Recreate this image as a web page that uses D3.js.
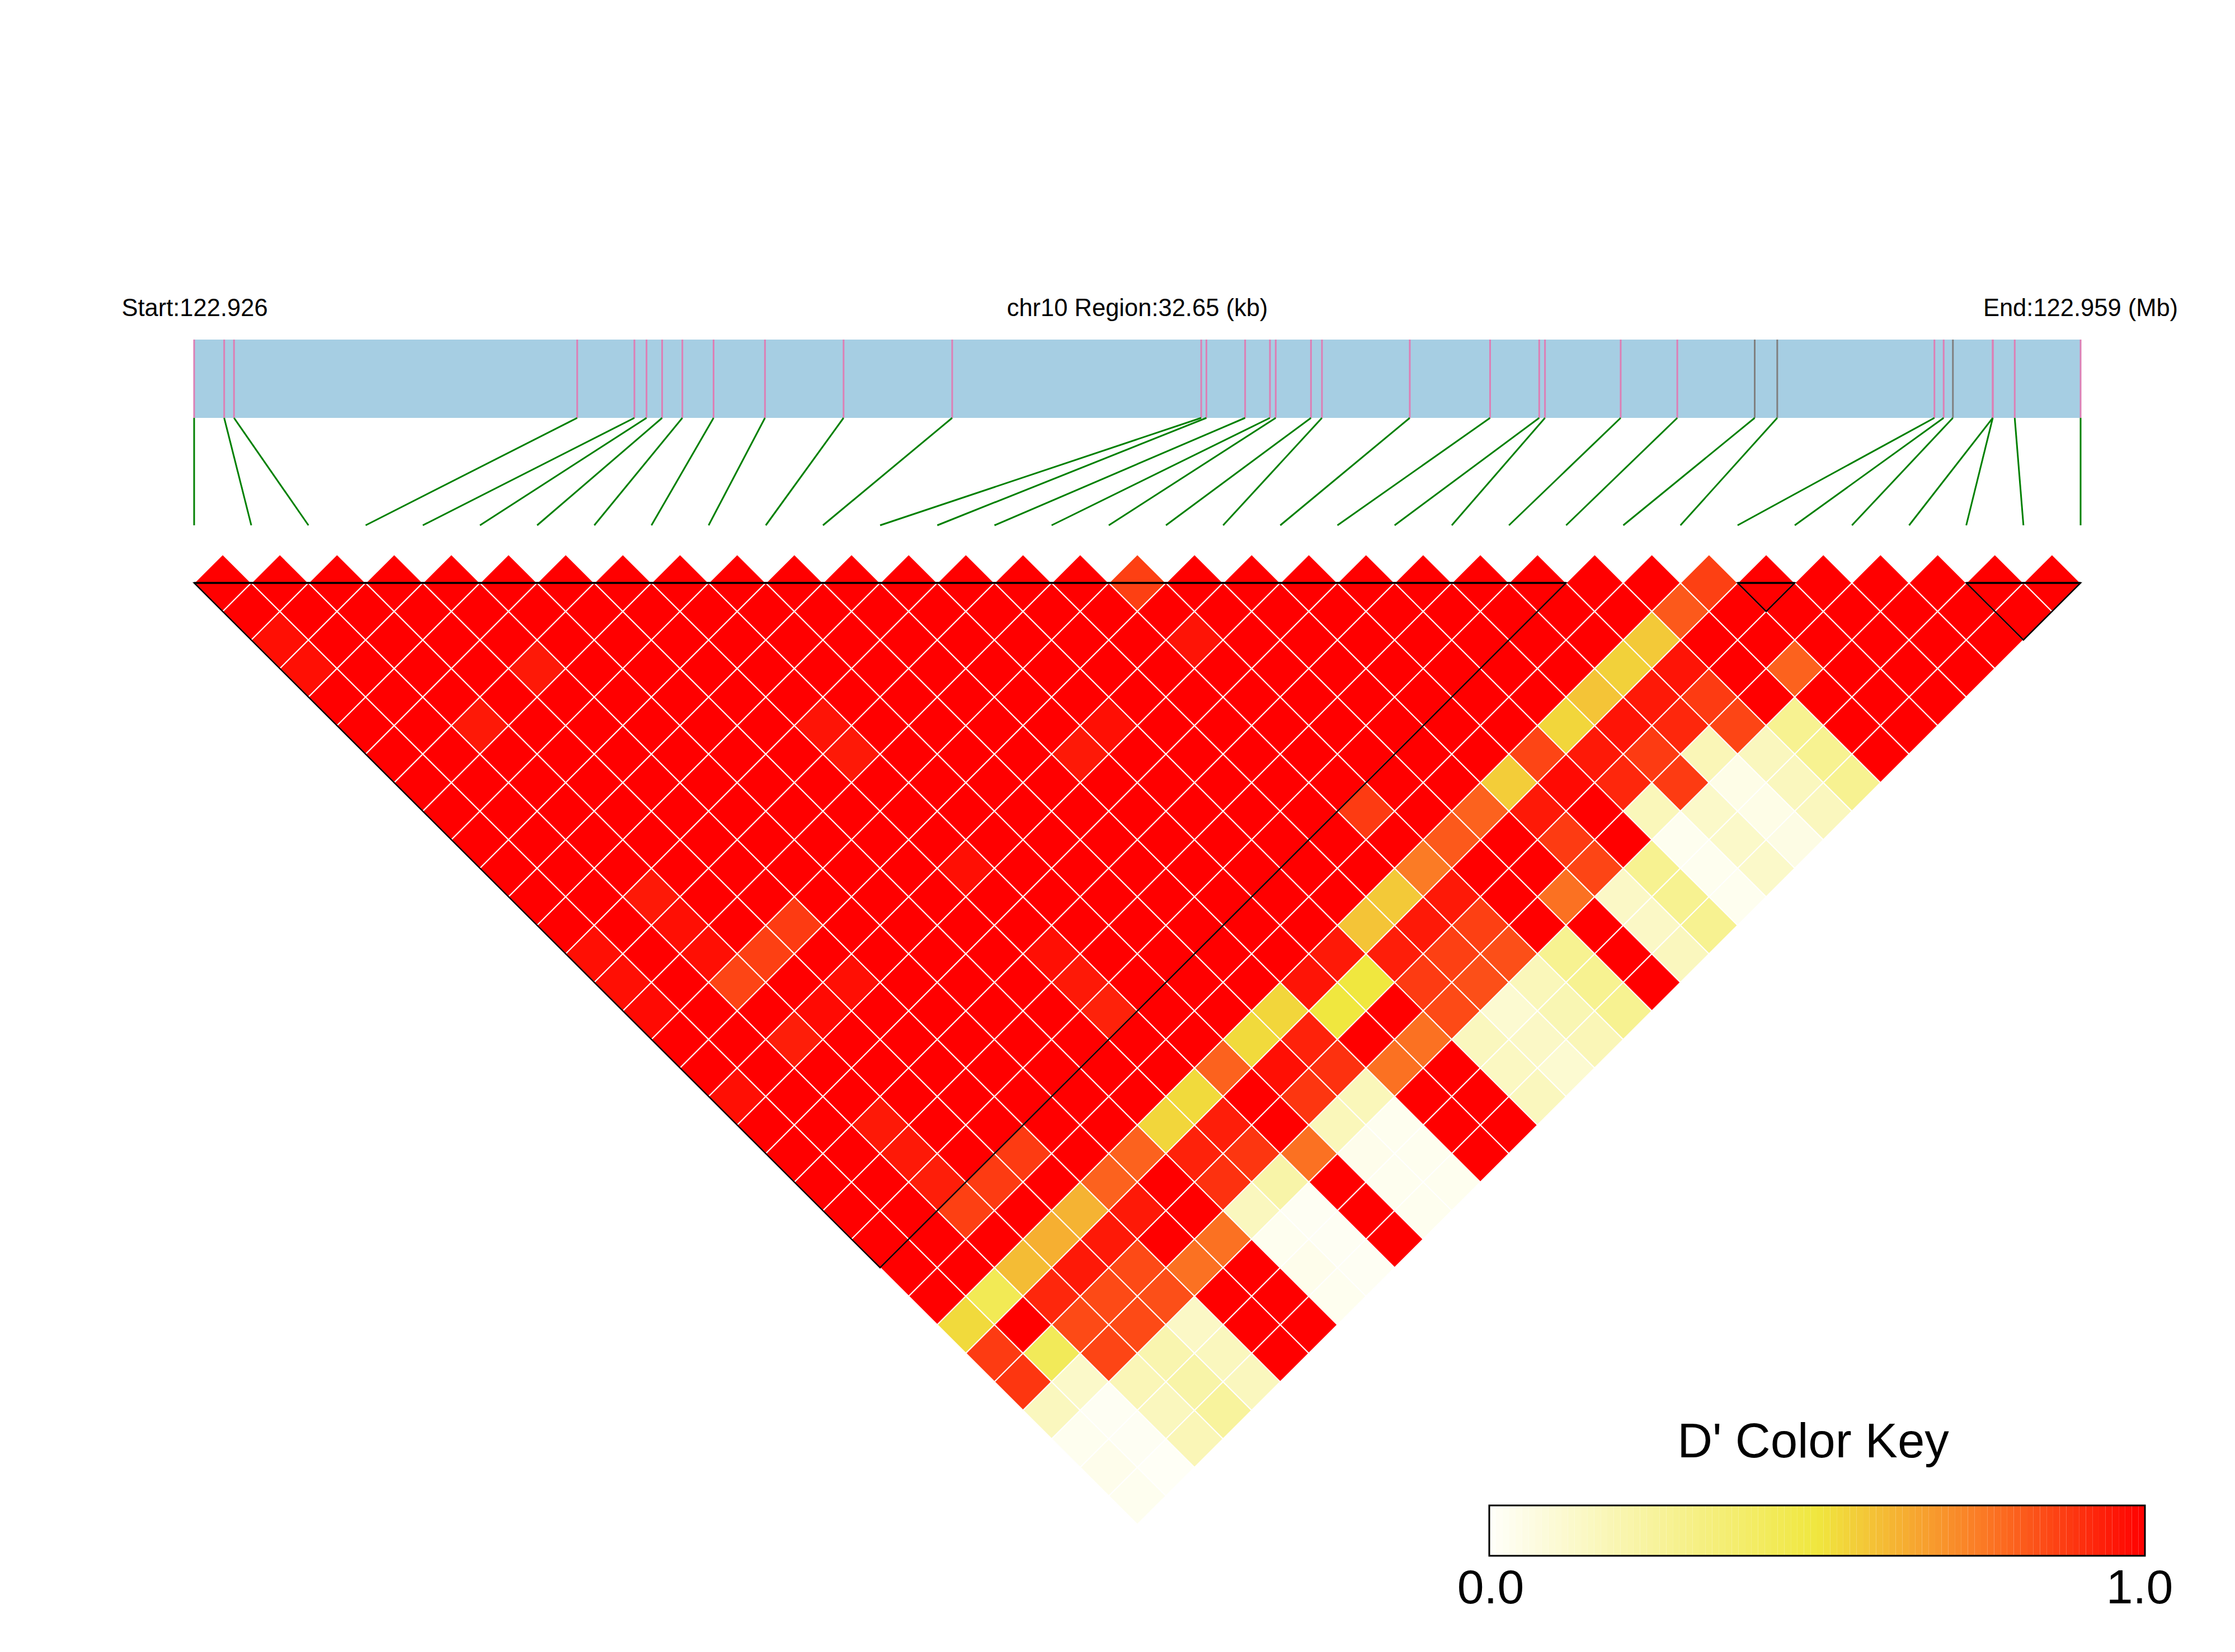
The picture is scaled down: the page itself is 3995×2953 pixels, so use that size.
<!DOCTYPE html>
<html>
<head>
<meta charset="utf-8">
<script src="https://cdn.jsdelivr.net/npm/d3@7"></script>
<style>
  body { margin: 0; background: #fff; }
  text { font-family: "Liberation Sans", Arial, sans-serif; fill: #000; }
</style>
</head>
<body>
<div id="chart"></div>
<script>
// SNP positions along the region, in kb from the start
const snpKb = [0, 0.52, 0.69, 6.63, 7.62, 7.83, 8.10, 8.45, 8.99, 9.88, 11.24, 13.12,
  17.43, 17.52, 18.19, 18.62, 18.72, 19.33, 19.52, 21.04, 22.43, 23.28, 23.38,
  24.69, 25.67, 27.01, 27.40, 30.12, 30.28, 30.44, 31.13, 31.13, 31.51, 32.65];

// SNPs whose bar mark is grey instead of pink
const greySnps = [25, 26, 29];

// D' lower triangle: dPrime[j - 1][i] is the pair (i, j), i < j
const dPrime = [
  [1],
  [1, 1],
  [.97, 1, 1],
  [.97, 1, 1, 1],
  [1, 1, 1, 1, 1],
  [1, 1, 1, 1, 1, 1],
  [1, 1, 1, 1, 1, 1, 1],
  [1, 1, .95, 1, .95, 1, 1, 1],
  [1, 1, 1, 1, 1, 1, 1, 1, 1],
  [1, 1, 1, 1, 1, 1, 1, 1, 1, 1],
  [1, 1, 1, 1, 1, 1, 1, 1, 1, 1, 1],
  [1, 1, 1, 1, 1, 1, 1, 1, 1, 1, 1, 1],
  [1, 1, 1, 1, 1, 1, 1, 1, 1, 1, 1, 1, 1],
  [.97, 1, .95, 1, 1, 1, 1, 1, .96, 1, 1, 1, 1, 1],
  [.97, 1, .97, 1, 1, 1, 1, 1, .95, 1, 1, 1, 1, 1, 1],
  [.98, 1, .97, 1, 1, 1, 1, 1, 1, 1, 1, 1, 1, 1, 1, 1],
  [1, 1, .86, .87, .88, 1, 1, 1, 1, 1, 1, 1, 1, 1, 1, 1, .87],
  [1, 1, 1, 1, 1, 1, 1, 1, 1, 1, 1, 1, 1, 1, 1, 1, 1, 1],
  [.97, 1, .94, .98, .97, 1, 1, 1, .97, 1, 1, 1, .95, .97, 1, 1, .96, 1, 1],
  [1, 1, 1, 1, 1, 1, 1, 1, 1, 1, 1, 1, 1, 1, 1, 1, 1, 1, 1, 1],
  [1, 1, 1, 1, 1, 1, 1, 1, 1, 1, 1, 1, 1, 1, 1, 1, 1, 1, 1, 1, 1],
  [1, 1, .95, 1, 1, 1, 1, 1, .97, 1, 1, 1, 1, 1, 1, 1, 1, 1, 1, 1, 1, 1],
  [1, 1, .95, 1, 1, 1, 1, 1, .95, 1, 1, 1, 1, 1, 1, 1, 1, 1, 1, 1, 1, 1, 1],
  [1, 1, .94, 1, 1, 1, 1, 1, .93, 1, 1, 1, 1, 1, 1, 1, 1, 1, 1, 1, 1, 1, 1, 1],
  [1, 1, .87, .88, .88, 1, 1, 1, 1, 1, 1, 1, 1, 1, 1, 1, .88, 1, 1, 1, 1, 1, 1, 1, 1],
  [1, 1, 1, 1, 1, 1, 1, 1, 1, 1, 1, 1, 1, 1, 1, 1, 1, 1, 1, 1, 1, 1, 1, 1, 1, 1],
  [.53, .44, .6, .63, .62, .8, .8, .54, .53, .8, .53, .54, .96, .95, .58, .57, .75, .82, .8, .56, .86, .54, .58, .55, .57, .82, .87],
  [.88, 1, .92, .95, .95, .95, 1, .93, .94, 1, .97, .93, .5, .5, .94, .95, .95, 1, 1, .95, .98, .95, .96, .95, .96, 1, 1, 1],
  [.89, .43, .85, .85, .85, 1, 1, .9, .89, 1, .89, .9, 1, 1, .88, .87, .87, 1, 1, .88, 1, .92, .88, .92, .88, 1, 1, 1, 1],
  [.16, .13, .86, .85, .84, .77, .77, .16, .22, .77, .17, .17, .77, .77, .85, .84, .84, 1, .77, .86, 1, .17, .88, .18, .86, 1, .8, 1, 1, 1],
  [.03, .02, .18, .2, .14, 1, 1, .03, .02, 1, .04, .03, 1, 1, .16, .11, .17, .28, 1, .14, .28, .03, .13, .05, .16, .28, 1, 1, 1, 1, 1],
  [.04, .02, .16, .22, .16, 1, 1, .04, .02, 1, .03, .03, 1, 1, .15, .14, .19, .28, 1, .14, .28, .03, .13, .05, .16, .28, 1, 1, 1, 1, 1, 1],
  [.03, .01, .18, .25, .16, 1, 1, .03, .02, 1, .03, .03, 1, 1, .16, .11, .18, .28, 1, .16, .28, .03, .13, .06, .16, .28, 1, 1, 1, 1, 1, 1, 1]
];

// Haplotype blocks as [first SNP, last SNP]
const blocks = [[0, 24], [27, 28], [31, 33]];

const startLabel = "Start:122.926";
const regionLabel = "chr10 Region:32.65 (kb)";
const endLabel = "End:122.959 (Mb)";
const keyTitle = "D' Color Key";
const keyTicks = [0, 1];

const width = 3995;
const height = 2953;
const left = 347;
const right = 3719;
const barTop = 607;
const barBottom = 747;
const linkBottom = 939;
const baseY = 1042;
const lagStep = 51;

const svg = d3.select("#chart").append("svg")
    .attr("width", width)
    .attr("height", height);

const kbScale = d3.scaleLinear().domain([0, 32.65]).range([left, right]);
const snpScale = d3.scaleLinear().domain([0, snpKb.length - 1]).range([left, right]);
const lagScale = d3.scaleLinear().domain([0, 1]).range([baseY, baseY + lagStep]);

const colorScale = d3.scaleLinear()
    .domain([0, 0.5, 0.75, 1])
    .range(["#fffffa", "#f0e73f", "#fb7b25", "#ff0000"])
    .clamp(true);

// Labels above the bar
svg.selectAll("text.head")
    .data([[startLabel, left + 1], [regionLabel, (left + right) / 2], [endLabel, right]])
    .enter()
    .append("text")
    .attr("class", "head")
    .attr("x", d => d[1])
    .attr("y", 565)
    .attr("text-anchor", "middle")
    .attr("font-size", 43.5)
    .text(d => d[0]);

// Region bar
svg.append("rect")
    .attr("x", left)
    .attr("y", barTop)
    .attr("width", right - left)
    .attr("height", barBottom - barTop)
    .attr("fill", "#a6cee3");

svg.selectAll("line.mark")
    .data(snpKb)
    .enter()
    .append("line")
    .attr("class", "mark")
    .attr("x1", d => kbScale(d))
    .attr("x2", d => kbScale(d))
    .attr("y1", barTop)
    .attr("y2", barBottom)
    .attr("stroke", (d, i) => greySnps.includes(i) ? "#808080" : "#dd7fb5")
    .attr("stroke-width", 3);

// Links from the bar down to the heatmap columns
svg.selectAll("line.link")
    .data(snpKb)
    .enter()
    .append("line")
    .attr("class", "link")
    .attr("x1", d => kbScale(d))
    .attr("y1", barBottom)
    .attr("x2", (d, i) => snpScale(i))
    .attr("y2", linkBottom)
    .attr("stroke", "#008000")
    .attr("stroke-width", 3);

// Heatmap cells
const cells = [];
dPrime.forEach((row, r) => {
    row.forEach((value, i) => cells.push({ i: i, j: r + 1, value: value }));
});

const cellPoints = d => {
    const cx = (snpScale(d.i) + snpScale(d.j)) / 2;
    const cy = lagScale(d.j - d.i - 1);
    const hw = (snpScale(1) - snpScale(0)) / 2;
    return [[cx, cy - lagStep], [cx + hw, cy], [cx, cy + lagStep], [cx - hw, cy]].join(" ");
};

svg.selectAll("polygon.cell")
    .data(cells)
    .enter()
    .append("polygon")
    .attr("class", "cell")
    .attr("points", cellPoints)
    .attr("fill", d => colorScale(d.value))
    .attr("stroke", "#fff")
    .attr("stroke-width", 2);

// Block outlines
svg.selectAll("polygon.block")
    .data(blocks)
    .enter()
    .append("polygon")
    .attr("class", "block")
    .attr("points", d => [
        [snpScale(d[0]), baseY],
        [snpScale(d[1]), baseY],
        [(snpScale(d[0]) + snpScale(d[1])) / 2, lagScale(d[1] - d[0])]
    ].join(" "))
    .attr("fill", "none")
    .attr("stroke", "#000")
    .attr("stroke-width", 2.5);

svg.selectAll("line.blocktop")
    .data(blocks)
    .enter()
    .append("line")
    .attr("class", "blocktop")
    .attr("x1", d => snpScale(d[0]))
    .attr("x2", d => snpScale(d[1]))
    .attr("y1", baseY)
    .attr("y2", baseY)
    .attr("stroke", "#000")
    .attr("stroke-width", 3.5);

// Colour key
const keyScale = d3.scaleLinear().domain([0, 1]).range([2662, 3834]);
const keySteps = d3.range(0, 100);

svg.selectAll("rect.key")
    .data(keySteps)
    .enter()
    .append("rect")
    .attr("class", "key")
    .attr("x", d => keyScale(d / 100))
    .attr("y", 2691)
    .attr("width", keyScale(0.01) - keyScale(0))
    .attr("height", 90)
    .attr("fill", d => colorScale((d + 0.5) / 100));

svg.append("rect")
    .attr("x", keyScale(0))
    .attr("y", 2691)
    .attr("width", keyScale(1) - keyScale(0))
    .attr("height", 90)
    .attr("fill", "none")
    .attr("stroke", "#000")
    .attr("stroke-width", 3);

const keyAxis = d3.axisBottom(keyScale)
    .tickValues(keyTicks)
    .tickFormat(d3.format(".1f"))
    .tickSize(0)
    .tickPadding(0);

const keyAxisG = svg.append("g")
    .attr("transform", "translate(0,2781)")
    .call(keyAxis);

keyAxisG.select(".domain").remove();
keyAxisG.selectAll("text")
    .attr("font-size", 86)
    .attr("y", 85)
    .attr("dy", 0)
    .attr("dx", d => d === 0 ? 2 : -10)
    .style("font-family", "'Liberation Sans', Arial, sans-serif");

svg.append("text")
    .attr("x", 3241)
    .attr("y", 2605)
    .attr("text-anchor", "middle")
    .attr("font-size", 87)
    .text(keyTitle);
</script>
</body>
</html>
